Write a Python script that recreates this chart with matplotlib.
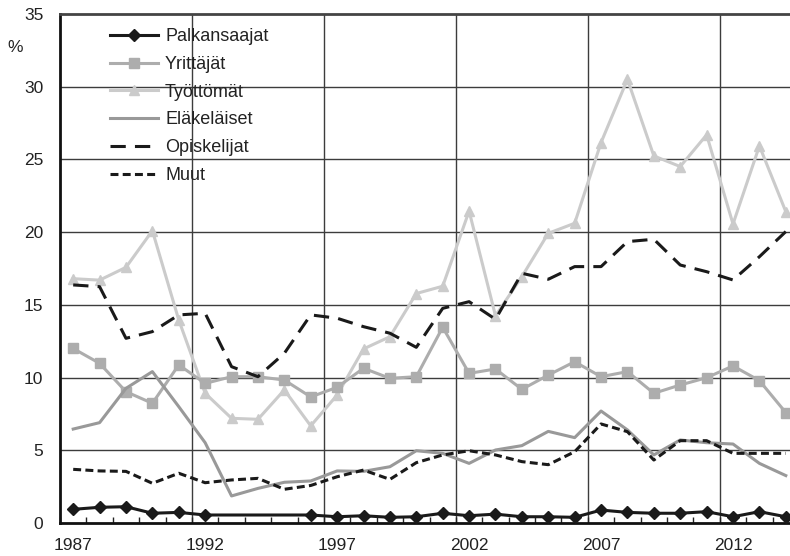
import matplotlib
matplotlib.use('Agg')
import matplotlib.pyplot as plt
import numpy as np

plt.rcParams['font.family'] = ['Liberation Sans', 'DejaVu Sans']

# data, years 1987-2014
years = list(range(1987, 2015))
palkansaajat = [0.94, 1.08, 1.12, 0.67, 0.73, 0.55, None, None, None, 0.55,
                0.43, 0.5, 0.39, 0.43, 0.67, 0.5, 0.61, 0.43, 0.43, 0.39,
                0.89, 0.73, 0.67, 0.67, 0.78, 0.43, 0.78, 0.43]
yrittajat = [12.0, 10.98, 9.03, 8.23, 10.87, 9.6, 10.06, 10.06, 9.83, 8.67,
             9.33, 10.64, 9.95, 10.06, 13.46, 10.29, 10.59, 9.19, 10.17, 11.09,
             10.06, 10.41, 8.92, 9.49, 9.99, 10.8, 9.79, 7.59]
tyottomat = [16.8, 16.7, 17.58, 20.1, 13.96, 8.92, 7.2, 7.13, 9.15, 6.68,
             8.8, 11.97, 12.81, 15.78, 16.28, 21.45, 14.25, 16.94, 19.92, 20.61,
             26.16, 30.51, 25.24, 24.51, 26.69, 20.56, 25.93, 21.41]
elakelaiset = [6.46, 6.9, 9.26, 10.41, 8.0, 5.52, 1.86, 2.38, 2.8, 2.89,
               3.58, 3.55, 3.87, 4.97, 4.79, 4.1, 5.02, 5.32, 6.3, 5.87,
               7.7, 6.4, 4.68, 5.71, 5.52, 5.43, 4.1, 3.26]
opiskelijat = [16.37, 16.25, 12.7, 13.16, 14.31, 14.42, 10.75, 10.06, 11.67, 14.31,
               14.08, 13.5, 13.05, 12.08, 14.76, 15.22, 14.01, 17.17, 16.76, 17.63,
               17.63, 19.35, 19.51, 17.74, 17.28, 16.71, 18.31, 20.04]
muut = [3.69, 3.58, 3.55, 2.73, 3.42, 2.77, 2.96, 3.07, 2.32, 2.58,
        3.18, 3.64, 3.0, 4.15, 4.68, 4.97, 4.68, 4.22, 4.01, 4.9,
        6.81, 6.28, 4.33, 5.66, 5.66, 4.79, 4.79, 4.79]

fig = plt.figure(figsize=(7.9, 5.56), dpi=100)
# axes run past the right edge like the cropped original
ax = fig.add_axes([60/790, 33/556, 739/790, 509/556])

x = np.arange(len(years))

def arr(v):
    return np.array([np.nan if a is None else a for a in v], dtype=float)

# Palkansaajat has gaps 1993-1995 but the line is joined across them
p = arr(palkansaajat)
ok = ~np.isnan(p)
ax.plot(x[ok], p[ok], color='#1a1a1a', lw=2.2, marker='D', ms=6.5,
        label='Palkansaajat', zorder=6)
ax.plot(x, yrittajat, color='#adadad', lw=2.2, marker='s', ms=7,
        label='Yrittäjät', zorder=4)
ax.plot(x, tyottomat, color='#cbcbcb', lw=2.2, marker='^', ms=7.5,
        label='Työttömät', zorder=3)
ax.plot(x, elakelaiset, color='#999999', lw=2.2, label='Eläkeläiset', zorder=4)
ax.plot(x, opiskelijat, color='#1a1a1a', lw=2.2, ls=(0, (5, 3)),
        label='Opiskelijat', zorder=5)
ax.plot(x, muut, color='#1a1a1a', lw=2.2, ls=(0, (2.6, 1.4)),
        label='Muut', zorder=5)

ax.set_xlim(-0.5, len(years) - 0.5)
ax.set_ylim(0, 35)

ax.set_yticks(range(0, 36, 5))
ax.tick_params(axis='y', length=0, pad=12, labelsize=12.5, labelcolor='#222222')

lab_idx = [i for i, y in enumerate(years) if (y - 1987) % 5 == 0]
ax.set_xticks(lab_idx)
ax.set_xticklabels([str(years[i]) for i in lab_idx])
ax.set_xticks(np.arange(-0.5, len(years), 1), minor=True)
ax.tick_params(axis='x', which='major', length=0, pad=11, labelsize=12.5,
               labelcolor='#222222')
ax.tick_params(axis='x', which='minor', direction='in', length=4, width=1,
               color='#222222')

for v in range(5, 35, 5):
    ax.axhline(v, color='#3c3c3c', lw=1.0, zorder=1)
for i in lab_idx[1:]:
    ax.axvline(i - 0.5, color='#3c3c3c', lw=1.0, zorder=1)

ax.spines['right'].set_visible(False)
ax.spines['top'].set_color('#444444')
ax.spines['top'].set_linewidth(2.0)
ax.spines['left'].set_color('#111111')
ax.spines['left'].set_linewidth(2.0)
ax.spines['bottom'].set_color('#111111')
ax.spines['bottom'].set_linewidth(2.0)

fig.text(15/790, 1 - 47/556, '%', fontsize=12.5, color='#222222',
         ha='center', va='center')

leg = ax.legend(loc='upper left', bbox_to_anchor=(110/790, 1 - 28/556),
                bbox_transform=fig.transFigure, frameon=False, fontsize=13,
                handlelength=2.66, handletextpad=0.39, labelspacing=0.6,
                numpoints=1, borderpad=0, borderaxespad=0)
for t in leg.get_texts():
    t.set_color('#222222')

fig.savefig('out.png', dpi=100)
